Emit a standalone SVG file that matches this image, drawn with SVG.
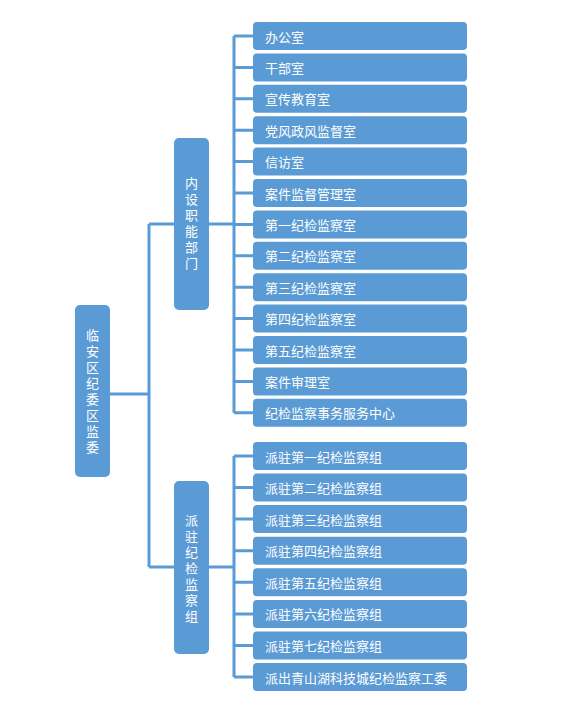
<svg xmlns="http://www.w3.org/2000/svg" width="568" height="713" viewBox="0 0 568 713">
<style>
.box{fill:#5B9BD5;}
.t{fill:#ffffff;font-family:"Noto Sans CJK SC","Microsoft YaHei",sans-serif;font-size:13px;dominant-baseline:central;}
.v{fill:#ffffff;font-family:"Noto Sans CJK SC","Microsoft YaHei",sans-serif;font-size:13px;text-anchor:middle;writing-mode:vertical-rl;letter-spacing:3px;}
.c{stroke:#5B9BD5;stroke-width:3;fill:none;}
</style>
<rect width="568" height="713" fill="#ffffff"/>
<g id="connectors" class="c">
<path d="M110 394H149M149 224V567M149 224H174M149 567H174"/>
<path d="M209 224H234M234 36V412.8"/>
<path d="M234 36H253M234 67.4H253M234 98.8H253M234 130.2H253M234 161.6H253M234 193H253M234 224.4H253M234 255.8H253M234 287.2H253M234 318.6H253M234 350H253M234 381.4H253M234 412.8H253"/>
<path d="M209 567H234M234 456V677"/>
<path d="M234 456H253M234 487.6H253M234 519.1H253M234 550.7H253M234 582.3H253M234 613.9H253M234 645.4H253M234 677H253"/>
</g>
<g id="root">
<rect class="box" x="75" y="305" width="35" height="172" rx="5"/>
<text class="v" x="92.5" y="392.5">临安区纪委区监委</text>
</g>
<g id="nsznbm">
<rect class="box" x="174" y="138" width="35" height="172" rx="5"/>
<text class="v" x="191.5" y="225">内设职能部门</text>
</g>
<g id="pzjjjcz">
<rect class="box" x="174" y="481" width="35" height="173" rx="5"/>
<text class="v" x="191.5" y="569.5">派驻纪检监察组</text>
</g>
<g id="a1"><rect class="box" x="253" y="22" width="214" height="28" rx="4"/><text class="t" x="265" y="36">办公室</text></g>
<g id="a2"><rect class="box" x="253" y="53.4" width="214" height="28" rx="4"/><text class="t" x="265" y="67.4">干部室</text></g>
<g id="a3"><rect class="box" x="253" y="84.8" width="214" height="28" rx="4"/><text class="t" x="265" y="98.8">宣传教育室</text></g>
<g id="a4"><rect class="box" x="253" y="116.2" width="214" height="28" rx="4"/><text class="t" x="265" y="130.2">党风政风监督室</text></g>
<g id="a5"><rect class="box" x="253" y="147.6" width="214" height="28" rx="4"/><text class="t" x="265" y="161.6">信访室</text></g>
<g id="a6"><rect class="box" x="253" y="179" width="214" height="28" rx="4"/><text class="t" x="265" y="193">案件监督管理室</text></g>
<g id="a7"><rect class="box" x="253" y="210.4" width="214" height="28" rx="4"/><text class="t" x="265" y="224.4">第一纪检监察室</text></g>
<g id="a8"><rect class="box" x="253" y="241.8" width="214" height="28" rx="4"/><text class="t" x="265" y="255.8">第二纪检监察室</text></g>
<g id="a9"><rect class="box" x="253" y="273.2" width="214" height="28" rx="4"/><text class="t" x="265" y="287.2">第三纪检监察室</text></g>
<g id="a10"><rect class="box" x="253" y="304.6" width="214" height="28" rx="4"/><text class="t" x="265" y="318.6">第四纪检监察室</text></g>
<g id="a11"><rect class="box" x="253" y="336" width="214" height="28" rx="4"/><text class="t" x="265" y="350">第五纪检监察室</text></g>
<g id="a12"><rect class="box" x="253" y="367.4" width="214" height="28" rx="4"/><text class="t" x="265" y="381.4">案件审理室</text></g>
<g id="a13"><rect class="box" x="253" y="398.8" width="214" height="28" rx="4"/><text class="t" x="265" y="412.8">纪检监察事务服务中心</text></g>
<g id="b1"><rect class="box" x="253" y="442" width="214" height="28" rx="4"/><text class="t" x="265" y="456">派驻第一纪检监察组</text></g>
<g id="b2"><rect class="box" x="253" y="473.6" width="214" height="28" rx="4"/><text class="t" x="265" y="487.6">派驻第二纪检监察组</text></g>
<g id="b3"><rect class="box" x="253" y="505.1" width="214" height="28" rx="4"/><text class="t" x="265" y="519.1">派驻第三纪检监察组</text></g>
<g id="b4"><rect class="box" x="253" y="536.7" width="214" height="28" rx="4"/><text class="t" x="265" y="550.7">派驻第四纪检监察组</text></g>
<g id="b5"><rect class="box" x="253" y="568.3" width="214" height="28" rx="4"/><text class="t" x="265" y="582.3">派驻第五纪检监察组</text></g>
<g id="b6"><rect class="box" x="253" y="599.9" width="214" height="28" rx="4"/><text class="t" x="265" y="613.9">派驻第六纪检监察组</text></g>
<g id="b7"><rect class="box" x="253" y="631.4" width="214" height="28" rx="4"/><text class="t" x="265" y="645.4">派驻第七纪检监察组</text></g>
<g id="b8"><rect class="box" x="253" y="663" width="214" height="28" rx="4"/><text class="t" x="265" y="677">派出青山湖科技城纪检监察工委</text></g>
</svg>
